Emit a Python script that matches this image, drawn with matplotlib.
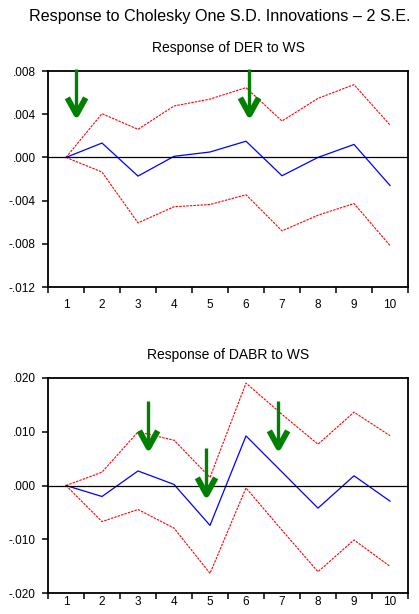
import numpy as np
import matplotlib
matplotlib.use("Agg")
import matplotlib.pyplot as plt
from matplotlib.path import Path
from matplotlib.ticker import FixedLocator, FuncFormatter

plt.rcParams['font.family'] = ['Liberation Sans', 'DejaVu Sans']

periods = np.arange(1, 11)

# impulse responses with +/- 2 S.E. bands
der_resp = [0.0, 0.00133, -0.00173, 0.0001, 0.0005, 0.0015, -0.0017, 0.0, 0.0012, -0.0026]
der_upper = [0.0, 0.00405, 0.0026, 0.00476, 0.0054, 0.00646, 0.00337, 0.00547, 0.00674, 0.0030]
der_lower = [0.0, -0.00136, -0.00606, -0.00457, -0.00436, -0.00346, -0.0068, -0.00535, -0.00427, -0.00816]

dabr_resp = [0.0, -0.00204, 0.0027, 0.0002, -0.0074, 0.0092, 0.0025, -0.0042, 0.0018, -0.0029]
dabr_upper = [0.0, 0.00247, 0.00995, 0.0084, 0.0015, 0.0190, 0.0132, 0.00766, 0.0136, 0.00925]
dabr_lower = [0.0, -0.0067, -0.00445, -0.0079, -0.0163, -0.00045, -0.0083, -0.0160, -0.0101, -0.0150]

der_ticks = [-0.012, -0.008, -0.004, 0.0, 0.004, 0.008]
dabr_ticks = [-0.020, -0.010, 0.0, 0.010, 0.020]

# arrow markers: (period, tip value, top value)
der_arrows = [(1.29, 0.0040, 0.0082), (6.09, 0.0040, 0.0082)]
dabr_arrows = [(3.29, 0.0072, 0.0156), (4.89, -0.0016, 0.0069), (6.88, 0.0072, 0.0156)]

W, H = 419, 614
fig = plt.figure(figsize=(W / 100, H / 100), dpi=100)

vee = Path([(-0.55, 1.0), (0.0, 0.0), (0.55, 1.0)], [Path.MOVETO, Path.LINETO, Path.LINETO])


def fmt(v, pos):
    s = "%.3f" % v
    if s.startswith("-0"):
        return "-" + s[2:]
    if s.startswith("0"):
        return s[1:]
    return s


def panel(rect, title, resp, upper, lower, ticks, arrows, xpad):
    ax = fig.add_axes(rect)
    ax.plot(periods, upper, color='red', lw=0.8, ls=(0, (2.2, 1)))
    ax.plot(periods, lower, color='red', lw=0.8, ls=(0, (2.2, 1)))
    ax.plot(periods, resp, color='blue', lw=0.9)
    ax.axhline(0, color='black', lw=0.9)
    ax.set_xlim(0.5, 10.5)
    ax.set_ylim(ticks[0], ticks[-1])
    ax.yaxis.set_major_locator(FixedLocator(ticks))
    ax.yaxis.set_major_formatter(FuncFormatter(fmt))
    ax.set_xticks(periods)
    ax.set_xticklabels([str(p) for p in periods])
    ax.set_xticks(np.arange(0.5, 11, 1), minor=True)
    ax.tick_params(axis='x', which='major', length=0, pad=xpad, labelsize=8.5)
    ax.tick_params(axis='x', which='minor', length=4, width=1.1, direction='out')
    ax.tick_params(axis='y', length=4, width=1.1, direction='out', pad=5, labelsize=8.5)
    for sp in ax.spines.values():
        sp.set_linewidth(1.3)
    for x, tip, top in arrows:
        ax.plot([x, x], [top, tip], color='green', lw=2.4, solid_capstyle='butt',
                clip_on=False, zorder=5)
        ax.plot([x], [tip], marker=vee, markersize=24, markeredgewidth=4.2,
                markerfacecolor='none', markeredgecolor='green', clip_on=False, zorder=6)
    pos = ax.get_position()
    fig.text(pos.x0 + pos.width / 2, pos.y1 + 23 / H, title, ha='center', va='center', fontsize=10)
    return ax


panel([48 / W, 1 - 287 / H, 360 / W, 216 / H], "Response of DER to WS",
      der_resp, der_upper, der_lower, der_ticks, der_arrows, 9)
panel([48 / W, 1 - 593.3 / H, 360 / W, 215.6 / H], "Response of DABR to WS",
      dabr_resp, dabr_upper, dabr_lower, dabr_ticks, dabr_arrows, 2)

fig.text(29 / W, 1 - 17 / H, "Response to Cholesky One S.D. Innovations \u2013 2 S.E.",
         ha='left', va='center', fontsize=11.6)

fig.savefig("out.png", dpi=100)
